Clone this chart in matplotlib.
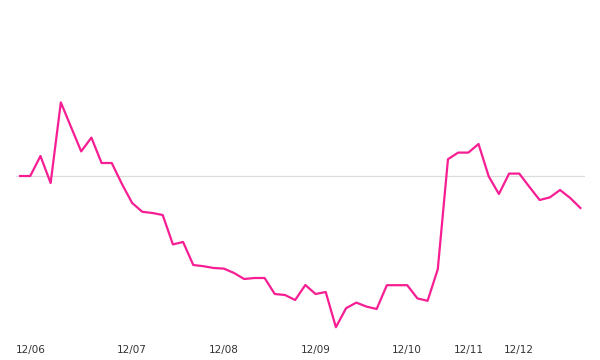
import numpy as np
import matplotlib.pyplot as plt

# weekly index values (baseline = 100)
values = [100, 100, 110, 96.5, 136.8, 124.5, 112.3, 119.2, 106.5, 106.5,
          96, 86.5, 82.1, 81.5, 80.5, 65.8, 67, 55.5, 54.9, 54,
          53.7, 51.5, 48.5, 49, 49, 41, 40.5, 38, 45.5, 41,
          42, 24.4, 33.9, 36.7, 34.7, 33.5, 45.4, 45.4, 45.4, 38.8,
          37.6, 53.4, 108.4, 111.7, 111.7, 116, 99.8, 91, 101.2, 101.2,
          94.5, 88, 89.3, 93, 89, 84]
baseline = 100
tick_pos = [1, 11, 20, 29, 38, 44, 49]
tick_labels = ['12/06', '12/07', '12/08', '12/09', '12/10', '12/11', '12/12']

fig = plt.figure(figsize=(6, 3.6), dpi=100)
ax = fig.add_axes([16 / 600, 25 / 360, 569 / 600, 315 / 360])

x = np.arange(len(values))
ax.axhline(baseline, color='#dddddd', lw=0.9, zorder=1)
ax.plot(x, values, color='#f71d93', lw=1.6, zorder=2)

ax.set_xlim(-0.4, 55.45)
ax.set_ylim(20.5, 178)
ax.set_xticks(tick_pos)
ax.set_xticklabels(tick_labels, fontsize=7.5, color='#333333')
ax.tick_params(axis='x', length=0, pad=7)
ax.set_yticks([])
for s in ax.spines.values():
    s.set_visible(False)

fig.savefig('out.png', dpi=100)
